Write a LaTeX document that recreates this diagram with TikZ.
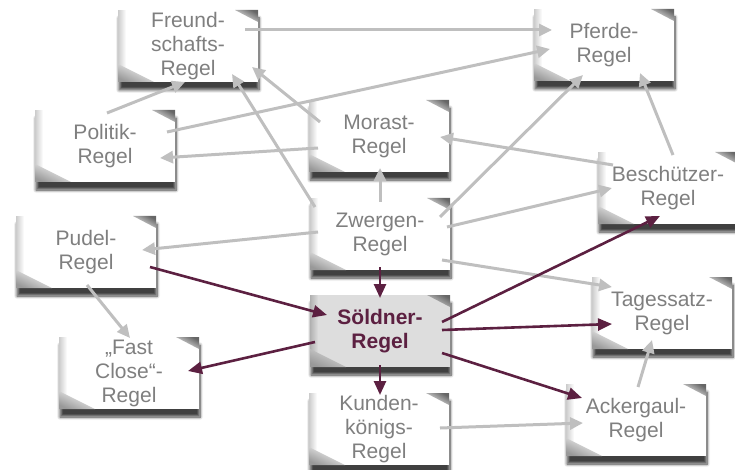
\documentclass[tikz,border=0pt]{standalone}
\usepackage{fontspec}
\setmainfont{Liberation Sans}
\usetikzlibrary{arrows.meta,calc,shadows.blur,fadings}

\definecolor{notetext}{HTML}{7F7F7F}
\definecolor{wine}{HTML}{5C2041}
\definecolor{linkgray}{HTML}{BFBFBF}
\definecolor{hilite}{HTML}{DDDDDD}

\tikzfading[name=edgefade, left color=transparent!80, right color=transparent!100]

\tikzset{
  notebox/.style={minimum width=140pt, minimum height=72pt,
    inner sep=0pt, align=center, text=notetext,
    font=\fontsize{21}{24}\selectfont,
    blur shadow={shadow xshift=1pt, shadow yshift=-8pt,
      shadow blur radius=3pt, shadow blur steps=8, shadow opacity=75}},
  keynote/.style={text=wine, font=\bfseries\fontsize{21}{24}\selectfont},
  link/.style={draw=linkgray, line width=3pt,
    -{Triangle[length=13pt,width=12pt]}},
  keylink/.style={draw=wine, line width=2.6pt,
    -{Triangle[length=14pt,width=12pt]}},
}

% a sticky note: blurred shadow, paper, curled corners
% [paper colour][extra node style]{name}{centre}{text}
\NewDocumentCommand\stickynote{O{white} O{} m m m}{%
  \begin{scope}[shift={(#4)}]
    \node[notebox, fill=#1, #2] (#3) at (0,0) {#5};
    \fill[black, path fading=edgefade] (-70,-36) rectangle (-62,24);
    \shade[top color=black!60, bottom color=#1, shading angle=-30]
      (47,-36) -- (70,-36) -- (70,-24) -- cycle;
    \shade[top color=#1, bottom color=black!40, shading angle=-25]
      (-70,18) -- (-70,36) -- (-34,36) -- cycle;
  \end{scope}}

\begin{document}
\begin{tikzpicture}[x=1pt, y=-1pt]
  \useasboundingbox (0,0) rectangle (735,470);

  \stickynote{fr}{188,46}{Freund-\\schafts-\\Regel}
  \stickynote{pf}{604,45}{Pferde-\\Regel}
  \stickynote{po}{105,146}{Politik-\\Regel}
  \stickynote{mo}{379,136}{Morast-\\Regel}
  \stickynote{be}{668,188}{Beschützer-\\Regel}
  \stickynote{pu}{86,252}{Pudel-\\Regel}
  \stickynote{zw}{380,234}{Zwergen-\\Regel}
  \stickynote[hilite][keynote]{so}{380,331}{Söldner-\\Regel}
  \stickynote{ta}{662,313}{Tagessatz-\\Regel}
  \stickynote{fc}{129,373}{„Fast\\Close“-\\Regel}
  \stickynote{ku}{379,429}{Kunden-\\königs-\\Regel}
  \stickynote{ac}{636,420}{Ackergaul-\\Regel}

  % grey links
  \draw[link] ($(fr)+(57,-16)$) -- ($(pf)+(-52,-15)$);
  \draw[link] ($(po)+(62,-14)$) -- ($(pf)+(-54,4)$);
  \draw[link] ($(po)+(2,-33)$) -- ($(fr)+(-3,36)$);
  \draw[link] ($(mo)+(-59,-14)$) -- ($(fr)+(64,21)$);
  \draw[link] ($(zw)+(-65,-27)$) -- ($(fr)+(44,28)$);
  \draw[link] ($(mo)+(-61,12)$) -- ($(po)+(55,12)$);
  \draw[link] ($(zw)+(0,-32)$) -- ($(mo)+(1,32)$);
  \draw[link] ($(zw)+(60,-17)$) -- ($(pf)+(-21,30)$);
  \draw[link] ($(be)+(-55,-23)$) -- ($(mo)+(61,1)$);
  \draw[link] ($(zw)+(67,-7)$) -- ($(be)+(-56,0)$);
  \draw[link] ($(zw)+(-62,-2)$) -- ($(pu)+(56,-2)$);
  \draw[link] ($(zw)+(62,26)$) -- ($(ta)+(-50,-26)$);
  \draw[link] ($(be)+(5,-33)$) -- ($(pf)+(36,28)$);
  \draw[link] ($(pu)+(1,33)$) -- ($(fc)+(1,-35)$);
  \draw[link] ($(ku)+(61,-1)$) -- ($(ac)+(-53,3)$);
  \draw[link] ($(ac)+(2,-33)$) -- ($(ta)+(-10,27)$);

  % links of the Söldner rule
  \draw[keylink] ($(pu)+(64,15)$) -- ($(so)+(-53,-16)$);
  \draw[keylink] ($(zw)+(0,33)$) -- ($(so)+(0,-33)$);
  \draw[keylink] ($(so)+(62,-9)$) -- ($(be)+(-8,28)$);
  \draw[keylink] ($(so)+(62,-1)$) -- ($(ta)+(-50,11)$);
  \draw[keylink] ($(so)+(-65,11)$) -- ($(fc)+(59,-2)$);
  \draw[keylink] ($(so)+(0,34)$) -- ($(ku)+(1,-34)$);
  \draw[keylink] ($(so)+(62,22)$) -- ($(ac)+(-54,-22)$);
\end{tikzpicture}
\end{document}
